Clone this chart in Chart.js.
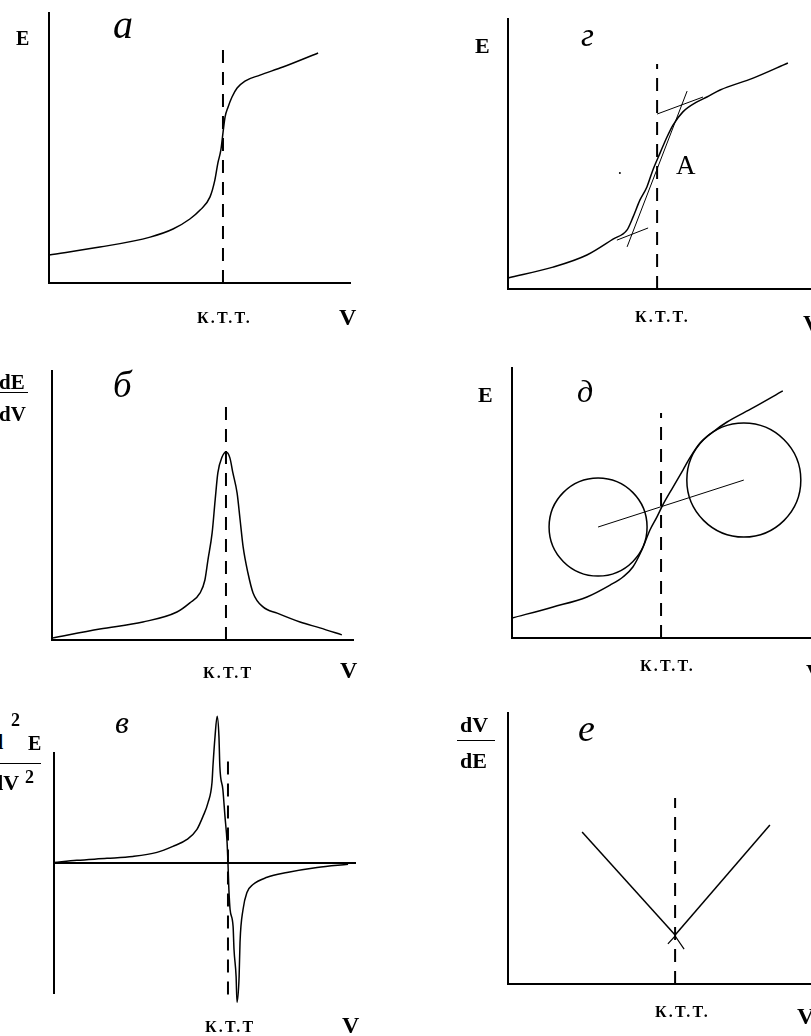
<!DOCTYPE html>
<html>
<head>
<meta charset="utf-8">
<script src="https://cdn.jsdelivr.net/npm/chart.js@4.4.1/dist/chart.umd.min.js"></script>
<style>
  body { margin: 0; background: #fff; width: 811px; height: 1036px; overflow: hidden; position: relative; }
  canvas { position: absolute; }
  .lbl { position: absolute; font-family: 'Liberation Serif', 'DejaVu Serif', serif; color: #000; line-height: 1; white-space: nowrap; }
  .bar { position: absolute; height: 0; border-top: 1.5px solid #000; }
</style>
</head>
<body>
<canvas id="panelA"></canvas>
<canvas id="panelB"></canvas>
<canvas id="panelC"></canvas>
<canvas id="panelG"></canvas>
<canvas id="panelD"></canvas>
<canvas id="panelE"></canvas>
<script>
// ─── Data ────────────────────────────────────────────────────────────────────
// volumes in % of the V axis, signals in % of the vertical axis

// а: integral curve E = f(V)
const V_A = [0, 16.9, 33.6, 41.2, 46.8, 50.2, 53.5, 55.1, 56.1, 57.1, 57.8, 58.5, 59.5, 60.8, 62.5, 65.1, 70.1, 77.7, 89.4];
const E_A = [10.4, 13.3, 17.0, 20.0, 23.7, 27.0, 31.9, 38.1, 44.4, 49.3, 55.6, 61.5, 65.2, 68.9, 72.2, 74.8, 77.0, 80.0, 85.2];
const EQ_A = 57.8, DASH_TOP_A = 87.0;

// б: first derivative dE/dV
const V_B = [0, 15.9, 30.2, 41.5, 45.8, 49.2, 50.8, 51.8, 53.2, 54.2, 55.1, 56.5, 57.8, 59.1, 60.1, 61.5, 62.5, 63.5, 65.1, 66.8, 70.1, 74.8, 82.4, 89.0, 96.3];
const DEDV_B = [0.7, 4.1, 6.7, 10.4, 13.8, 17.5, 22.3, 29.7, 39.8, 52.0, 62.1, 68.0, 69.9, 67.7, 62.1, 54.6, 44.6, 34.6, 24.9, 17.5, 12.3, 10.0, 6.7, 4.5, 1.9];
const EQ_B = 57.8, DASH_TOP_B = 86.6;

// в: second derivative d²E/dV²
const V_C = [0, 7.6, 17.6, 26.2, 34.2, 39.5, 44.2, 47.5, 49.5, 51.2, 52.5, 52.8, 53.5, 54.2, 54.8, 55.1, 56.1, 56.8, 57.5, 57.8, 58.1, 58.5, 59.5, 59.8, 60.5, 60.8, 61.5, 61.8, 62.8, 64.1, 66.1, 70.8, 77.4, 87.4, 97.7];
const D2E_C = [0.4, 1.3, 2.1, 2.9, 4.6, 7.1, 10.0, 14.2, 19.6, 25.4, 33.8, 40.4, 52.9, 61.3, 52.9, 40.4, 30.8, 19.6, 8.8, 0, -10.8, -19.2, -26.3, -35.8, -47.1, -57.9, -47.1, -32.9, -19.2, -12.1, -8.8, -5.8, -3.8, -1.7, -0.4];
const EQ_C = 57.8, DASH_C = [-54.6, 43.3];

// г: tangent method
const V_G = [0, 15, 26.3, 35, 39.7, 41.7, 44, 46.3, 48.3, 50.7, 53, 55, 58.3, 63, 66.3, 70.7, 81.7, 93.3];
const E_G = [4.1, 8.1, 12.6, 18.5, 21.9, 26.7, 33.0, 37.8, 44.1, 50.4, 56.3, 60.7, 65.6, 69.3, 71.1, 73.7, 78.1, 83.7];
const TAN_LOW_V = [36.3, 46.7], TAN_LOW_E = [18.1, 22.6];
const TAN_UP_V = [49.7, 65.0], TAN_UP_E = [64.8, 71.1];
const TAN_MID_V = [39.7, 59.7], TAN_MID_E = [15.6, 73.3];
const DOT_G_V = [37.3], DOT_G_E = [43.0];
const EQ_G = 49.7, DASH_TOP_G = 83.3;

// д: circle method
const V_D = [0, 13.7, 25, 32.7, 37, 40.3, 43.3, 46, 48.3, 50.3, 53.7, 57, 59.3, 62.7, 67, 71.7, 80.3, 90.3];
const E_D = [7.4, 11.5, 15.2, 19.6, 22.6, 26.3, 32.6, 40.0, 44.8, 49.3, 55.9, 62.2, 66.7, 72.2, 76.3, 80.0, 85.2, 91.5];
const CIRCLE_V = [28.7, 77.3], CIRCLE_E = [41.1, 58.5];
const EQ_D = 49.7, DASH_TOP_D = 83.3;

// е: Gran plot dV/dE
const GRAN_LEFT_V = [24.7, 55.7], GRAN_LEFT_Y = [56.1, 18.1];
const GRAN_RIGHT_V = [55.7, 87.3], GRAN_RIGHT_Y = [18.1, 58.7];
const MARK_V = [53.3, 55.7, 58.7], MARK_Y = [14.8, 17.7, 12.9];
const EQ_E = 55.7, DASH_TOP_E = 68.6;

// ─── Helpers ─────────────────────────────────────────────────────────────────

const pts = (xs, ys) => xs.map((x, i) => ({ x, y: ys[i] }));

function curve(xs, ys, width = 1.5) {
  return { data: pts(xs, ys), showLine: true, pointRadius: 0, borderColor: '#000', borderWidth: width,
           cubicInterpolationMode: 'monotone', clip: false };
}

function segment(xs, ys, width = 1) {
  return { data: pts(xs, ys), showLine: true, pointRadius: 0, borderColor: '#000', borderWidth: width,
           tension: 0, clip: false };
}

function dashed(x, y0, y1) {
  return { data: pts([x, x], [y0, y1]), showLine: true, pointRadius: 0, borderColor: '#000', borderWidth: 2,
           borderDash: [13, 9], tension: 0, clip: false };
}

const axis = (min, max, extra = {}) => ({
  type: 'linear', min, max,
  ticks: { display: false },
  grid: { display: false, drawTicks: false },
  border: { display: true, color: '#000', width: 2 },
  ...extra,
});

// frame = pixel box of the axes on the page
function renderPanel(id, frame, xMax, yMin, yMax, datasets, xAtZero = false) {
  const M = 40;
  const cv = document.getElementById(id);
  cv.width = frame.r - frame.l + 2 * M;
  cv.height = frame.b - frame.t + 2 * M;
  cv.style.left = (frame.l - M) + 'px';
  cv.style.top = (frame.t - M) + 'px';
  new Chart(cv, {
    type: 'scatter',
    data: { datasets },
    options: {
      responsive: false,
      animation: false,
      events: [],
      layout: { padding: M, autoPadding: false },
      plugins: { legend: { display: false }, tooltip: { enabled: false } },
      scales: {
        x: axis(0, xMax, xAtZero ? { position: { y: 0 } } : { position: 'bottom' }),
        y: axis(yMin, yMax, { position: 'left' }),
      },
    },
  });
}

// ─── Panels ──────────────────────────────────────────────────────────────────

renderPanel('panelA', { l: 49, t: 13, r: 350, b: 283 }, 100, 0, 100, [
  curve(V_A, E_A),
  dashed(EQ_A, 0, DASH_TOP_A),
]);

renderPanel('panelB', { l: 52, t: 371, r: 353, b: 640 }, 100, 0, 100, [
  curve(V_B, DEDV_B),
  dashed(EQ_B, 0, DASH_TOP_B),
]);

renderPanel('panelC', { l: 54, t: 753, r: 355, b: 993 }, 100, -54, 46, [
  curve(V_C, D2E_C),
  dashed(EQ_C, DASH_C[0], DASH_C[1]),
], true);

renderPanel('panelG', { l: 508, t: 19, r: 811, b: 289 }, 101, 0, 100, [
  curve(V_G, E_G),
  segment(TAN_LOW_V, TAN_LOW_E),
  segment(TAN_UP_V, TAN_UP_E),
  segment(TAN_MID_V, TAN_MID_E),
  { data: pts(DOT_G_V, DOT_G_E), pointRadius: 1, pointBackgroundColor: '#000', pointBorderWidth: 0, clip: false },
  dashed(EQ_G, 0, DASH_TOP_G),
]);

renderPanel('panelD', { l: 512, t: 368, r: 811, b: 638 }, 99.7, 0, 100, [
  curve(V_D, E_D),
  segment(CIRCLE_V, CIRCLE_E),
  { data: pts(CIRCLE_V, CIRCLE_E), pointRadius: [49, 57], pointStyle: 'circle',
    pointBackgroundColor: 'rgba(0,0,0,0)', pointBorderColor: '#000', pointBorderWidth: 1.5, clip: false },
  dashed(EQ_D, 0, DASH_TOP_D),
]);

renderPanel('panelE', { l: 508, t: 713, r: 811, b: 984 }, 101, 0, 100, [
  segment(GRAN_LEFT_V, GRAN_LEFT_Y, 1.5),
  segment(GRAN_RIGHT_V, GRAN_RIGHT_Y, 1.5),
  segment(MARK_V, MARK_Y, 1.2),
  dashed(EQ_E, 0, DASH_TOP_E),
]);

// ─── Labels ──────────────────────────────────────────────────────────────────
// [text, left, baseline, size, style]  style: 'i' italic, 'b' bold, 'k' bold spaced

const LABELS = [
  ['E', 16, 45, 20, 'b'], ['а', 113, 38, 40, 'i'], ['К.Т.Т.', 197, 323, 16, 'k'], ['V', 339, 325, 24, 'b'],
  ['dE', -1, 390, 21, 'b'], ['dV', -1, 422, 21, 'b'], ['б', 113, 397, 37, 'i'], ['К.Т.Т', 203, 678, 16, 'k'], ['V', 340, 678, 24, 'b'],
  ['d', -9, 749, 22, 'b'], ['2', 11, 726, 18, 'b'], ['E', 28, 750, 20, 'b'], ['dV', -9, 790, 22, 'b'], ['2', 25, 783, 18, 'b'],
  ['в', 115, 733, 32, 'i'], ['К.Т.Т', 205, 1032, 16, 'k'], ['V', 342, 1033, 24, 'b'],
  ['E', 475, 53, 22, 'b'], ['г', 581, 47, 33, 'i'], ['A', 676, 175, 27], ['К.Т.Т.', 635, 322, 16, 'k'], ['V', 803, 331, 24, 'b'],
  ['E', 478, 402, 22, 'b'], ['д', 577, 402, 32, 'i'], ['К.Т.Т.', 640, 671, 16, 'k'], ['V', 806, 680, 24, 'b'],
  ['dV', 460, 732, 22, 'b'], ['dE', 460, 768, 22, 'b'], ['е', 578, 741, 38, 'i'], ['К.Т.Т.', 655, 1017, 16, 'k'], ['V', 797, 1024, 24, 'b'],
];

// fraction bars: [left, right, y]
const BARS = [[0, 28, 392], [0, 41, 763], [457, 495, 740]];

LABELS.forEach(([text, left, base, size, style]) => {
  const el = document.createElement('div');
  el.className = 'lbl';
  el.textContent = text;
  el.style.left = left + 'px';
  el.style.top = (base - 0.8375 * size) + 'px';
  el.style.fontSize = size + 'px';
  if (style === 'i') el.style.fontStyle = 'italic';
  if (style === 'b' || style === 'k') el.style.fontWeight = 'bold';
  if (style === 'k') el.style.letterSpacing = '2.2px';
  document.body.appendChild(el);
});

BARS.forEach(([l, r, y]) => {
  const el = document.createElement('div');
  el.className = 'bar';
  el.style.left = l + 'px';
  el.style.width = (r - l) + 'px';
  el.style.top = y + 'px';
  document.body.appendChild(el);
});
</script>
</body>
</html>
